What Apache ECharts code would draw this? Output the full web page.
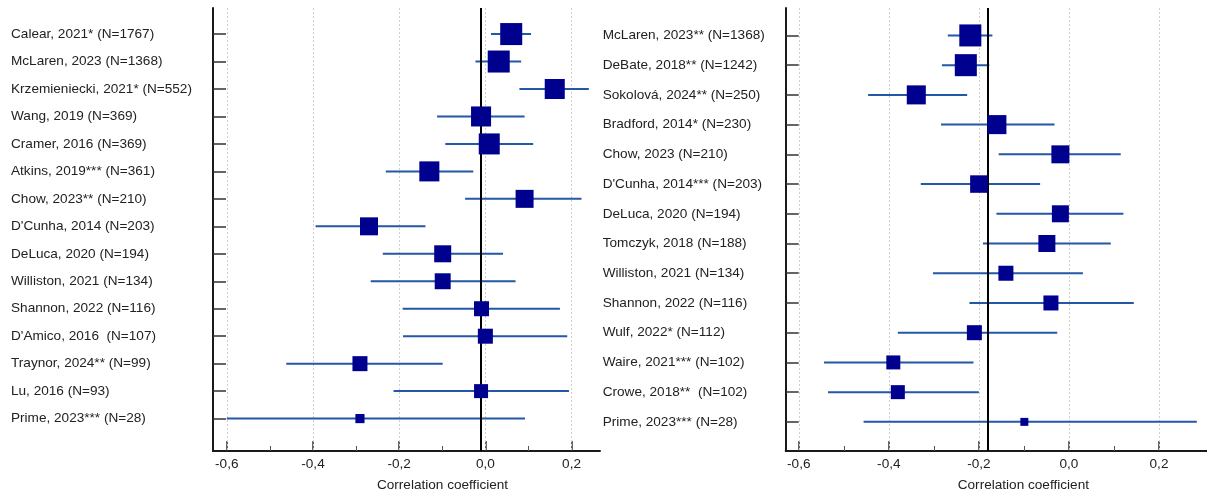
<!DOCTYPE html>
<html>
<head>
<meta charset="utf-8">
<script src="https://cdn.jsdelivr.net/npm/echarts@6/dist/echarts.min.js"></script>
<style>
html,body{margin:0;padding:0;background:#fff;}
#chart{width:1207px;height:497px;}
</style>
</head>
<body>
<div id="chart"></div>
<script>
// ---------- Data: left panel ----------
const studiesLeft = [
  "Calear, 2021* (N=1767)",
  "McLaren, 2023 (N=1368)",
  "Krzemieniecki, 2021* (N=552)",
  "Wang, 2019 (N=369)",
  "Cramer, 2016 (N=369)",
  "Atkins, 2019*** (N=361)",
  "Chow, 2023** (N=210)",
  "D'Cunha, 2014 (N=203)",
  "DeLuca, 2020 (N=194)",
  "Williston, 2021 (N=134)",
  "Shannon, 2022 (N=116)",
  "D'Amico, 2016  (N=107)",
  "Traynor, 2024** (N=99)",
  "Lu, 2016 (N=93)",
  "Prime, 2023*** (N=28)"
];
const estLeft  = [0.060, 0.031, 0.161, -0.010, 0.009, -0.130, 0.091, -0.270, -0.099, -0.099, -0.009, 0.000, -0.291, -0.010, -0.291];
const lowLeft  = [0.013, -0.023, 0.079, -0.112, -0.093, -0.231, -0.047, -0.394, -0.238, -0.266, -0.192, -0.191, -0.462, -0.213, -0.600];
const highLeft = [0.106, 0.083, 0.240, 0.091, 0.111, -0.028, 0.223, -0.139, 0.041, 0.070, 0.173, 0.190, -0.099, 0.194, 0.092];
const weightLeft = [9.9, 9.9, 8.2, 8.2, 9.0, 8.2, 6.6, 6.6, 5.9, 5.2, 4.6, 4.6, 4.6, 4.0, 1.7];
const pooledLeft = -0.014;

// ---------- Data: right panel ----------
const studiesRight = [
  "McLaren, 2023** (N=1368)",
  "DeBate, 2018** (N=1242)",
  "Sokolová, 2024** (N=250)",
  "Bradford, 2014* (N=230)",
  "Chow, 2023 (N=210)",
  "D'Cunha, 2014*** (N=203)",
  "DeLuca, 2020 (N=194)",
  "Tomczyk, 2018 (N=188)",
  "Williston, 2021 (N=134)",
  "Shannon, 2022 (N=116)",
  "Wulf, 2022* (N=112)",
  "Waire, 2021*** (N=102)",
  "Crowe, 2018**  (N=102)",
  "Prime, 2023*** (N=28)"
];
const estRight  = [-0.219, -0.229, -0.339, -0.160, -0.019, -0.200, -0.019, -0.049, -0.140, -0.040, -0.210, -0.390, -0.380, -0.099];
const lowRight  = [-0.269, -0.282, -0.446, -0.284, -0.156, -0.329, -0.161, -0.191, -0.302, -0.221, -0.380, -0.544, -0.535, -0.456];
const highRight = [-0.170, -0.177, -0.226, -0.032, 0.115, -0.064, 0.121, 0.093, 0.031, 0.144, -0.026, -0.212, -0.200, 0.284];
const weightRight = [9.9, 9.9, 7.4, 7.4, 6.6, 6.25, 5.9, 5.9, 4.6, 4.6, 4.6, 4.0, 4.0, 1.3];
const pooledRight = -0.180;

// ---------- Axis ticks ----------
const xTickValues = [-0.6, -0.4, -0.2, 0.0, 0.2];
const xTickLabels = ["-0,6", "-0,4", "-0,2", "0,0", "0,2"];
const xMinorTickValues = [-0.5, -0.3, -0.1, 0.1];
const axisTitle = "Correlation coefficient";

// ---------- Build chart ----------
const FONT = "Liberation Sans, Arial, sans-serif";
const FS = 13.6;
const AXIS_COLOR = "#1a1a1a";
const CI_COLOR = "#2457a5";
const BOX_COLOR = "#00008f";
const GRID_COLOR = "#cfcfcf";

function idxArr(n){ const a=[]; for(let i=0;i<n;i++) a.push(i); return a; }

function panel(g, labels, est, low, high, weight, pooled, xr, yr, labelMargin, namePad){
  const n = labels.length;
  const rows = idxArr(n);
  const xAxes = [
    {
      gridIndex: g, type: 'value', position: 'bottom', min: xr[0], max: xr[1],
      axisLine: {show: true, onZero: false, lineStyle: {color: AXIS_COLOR, width: 2}},
      axisTick: {show: true, inside: true, length: 10, customValues: xTickValues, lineStyle: {color: '#333', width: 1.5}},
      axisLabel: {show: true, customValues: xTickValues, margin: 6, color: '#222', fontFamily: FONT, fontSize: FS,
        formatter: v => { const k = xTickValues.findIndex(t => Math.abs(t - v) < 1e-9); return k >= 0 ? xTickLabels[k] : ''; }},
      splitLine: {show: false},
      name: axisTitle, nameLocation: 'middle', nameGap: 27,
      nameTextStyle: {color: '#222', fontFamily: FONT, fontSize: FS, padding: [0, 0, 0, namePad]}
    },
    {
      gridIndex: g, type: 'value', position: 'bottom', min: xr[0], max: xr[1],
      axisLine: {show: false, onZero: false},
      axisTick: {show: true, inside: true, length: 5, customValues: xMinorTickValues, lineStyle: {color: '#555', width: 1}},
      axisLabel: {show: false},
      splitLine: {show: false}
    }
  ];
  const yAxis = {
    gridIndex: g, type: 'value', inverse: true, min: yr[0], max: yr[1],
    axisLine: {show: true, onZero: false, lineStyle: {color: AXIS_COLOR, width: 2}},
    axisTick: {show: true, inside: true, length: 13, customValues: rows, lineStyle: {color: '#333', width: 1.5}},
    axisLabel: {show: true, customValues: rows, align: 'left', margin: labelMargin, color: '#222',
      fontFamily: FONT, fontSize: FS, formatter: v => labels[Math.round(v)] || ''},
    splitLine: {show: false}
  };
  const xi = g * 2;
  const series = [
    { // grid lines
      type: 'scatter', xAxisIndex: xi, yAxisIndex: g, data: [], z: 1, silent: true,
      markLine: {silent: true, z: 1, symbol: ['none', 'none'], label: {show: false},
        lineStyle: {color: GRID_COLOR, type: [2, 2], width: 1},
        data: xTickValues.map(v => ({xAxis: v}))}
    },
    { // confidence intervals
      type: 'custom', xAxisIndex: xi, yAxisIndex: g, z: 2, silent: true,
      data: rows.map(i => [i, low[i], high[i]]),
      encode: {x: [1, 2], y: 0},
      renderItem: (params, api) => {
        const p1 = api.coord([api.value(1), api.value(0)]);
        const p2 = api.coord([api.value(2), api.value(0)]);
        return {type: 'line', shape: {x1: p1[0], y1: p1[1], x2: p2[0], y2: p2[1]},
          style: {stroke: CI_COLOR, lineWidth: 2}};
      }
    },
    { // pooled estimate line
      type: 'scatter', xAxisIndex: xi, yAxisIndex: g, data: [], z: 3, silent: true,
      markLine: {silent: true, z: 3, symbol: ['none', 'none'], label: {show: false},
        lineStyle: {color: '#000', type: 'solid', width: 2},
        data: [{xAxis: pooled}]}
    },
    { // point estimates
      type: 'scatter', xAxisIndex: xi, yAxisIndex: g, z: 4, silent: true,
      symbol: 'rect',
      data: rows.map(i => [est[i], i]),
      symbolSize: (val, p) => 7 * Math.sqrt(weight[p.dataIndex]),
      itemStyle: {color: BOX_COLOR, opacity: 1}
    }
  ];
  return {xAxes, yAxis, series};
}

const L = panel(0, studiesLeft, estLeft, lowLeft, highLeft, weightLeft, pooledLeft,
  [-0.632, 0.266], [-0.949, 15.18], 202, 72);
const R = panel(1, studiesRight, estRight, lowRight, highRight, weightRight, pooledRight,
  [-0.629, 0.3066], [-0.923, 13.98], 183, 54);

const chart = echarts.init(document.getElementById('chart'), null, {renderer: 'canvas'});
chart.setOption({
  animation: false,
  backgroundColor: '#fff',
  grid: [
    {left: 213, top: 8, width: 387, height: 447},
    {left: 785.7, top: 8, width: 421.3, height: 447}
  ],
  xAxis: [...L.xAxes, ...R.xAxes],
  yAxis: [L.yAxis, R.yAxis],
  series: [...L.series, ...R.series]
});
</script>
</body>
</html>
